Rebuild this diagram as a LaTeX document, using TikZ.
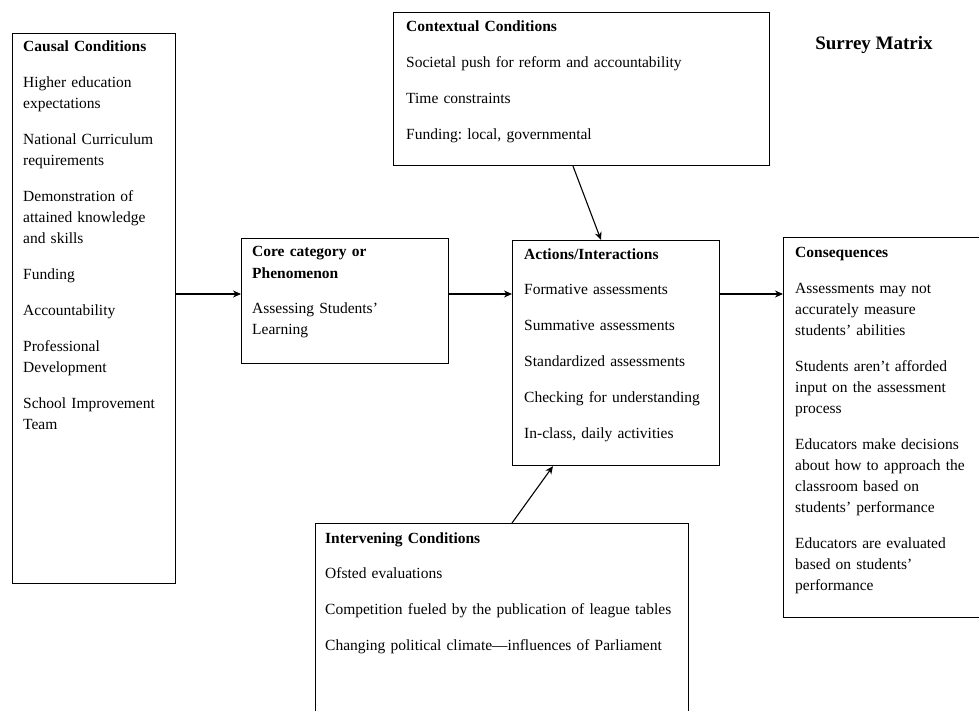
\documentclass[tikz,border=0pt]{standalone}
\usepackage{fontspec}
\setmainfont{Liberation Serif}
\usetikzlibrary{arrows.meta,calc}
\frenchspacing
\newcommand{\gp}{\\[14.9pt]}
\tikzset{
  box/.style={draw=black, line width=1.1pt, rectangle, inner sep=0pt, anchor=north west},
  txt/.style={anchor=base west, inner sep=0pt, align=left, text width=360pt,
              font=\fontsize{15.5}{21}\selectfont\frenchspacing, text=black},
  arr/.style={draw=black, line width=1.1pt, -{Stealth[length=8pt,width=7pt]}},
}
\begin{document}
\begin{tikzpicture}[x=1pt,y=-1pt]
\useasboundingbox (0,0) rectangle (979,711);
\clip (0,0) rectangle (979,711);
\fill[white] (0,0) rectangle (979,711);

% boxes
\node[box, minimum width=163pt, minimum height=550pt] (causal) at (12,33) {};
\node[box, minimum width=376pt, minimum height=153pt] (ctx) at (393,12) {};
\node[box, minimum width=207pt, minimum height=125pt] (core) at (241,238) {};
\node[box, minimum width=207pt, minimum height=225pt] (act) at (512,240) {};
\node[box, minimum width=210pt, minimum height=380pt] (cons) at (783,237) {};
\node[box, minimum width=373pt, minimum height=220pt] (intv) at (315,523) {};

% texts
\node[txt] (causalT) at (23,52) {\textbf{Causal Conditions}\gp
Higher education\\expectations\gp
National Curriculum\\requirements\gp
Demonstration of\\attained knowledge\\and skills\gp
Funding\gp
Accountability\gp
Professional\\Development\gp
School Improvement\\Team};

\node[txt] (ctxT) at (406,32) {\textbf{Contextual Conditions}\gp
Societal push for reform and accountability\gp
Time constraints\gp
Funding: local, governmental};

\node[txt] (coreT) at (252,257) {\textbf{Core category or}\\\textbf{Phenomenon}\gp
Assessing Students’\\Learning};

\node[txt] (actT) at (524,259) {\textbf{Actions/Interactions}\gp
Formative assessments\gp
Summative assessments\gp
Standardized assessments\gp
Checking for understanding\gp
In-class, daily activities};

\node[txt] (consT) at (795,258) {\textbf{Consequences}\gp
Assessments may not\\accurately measure\\students’ abilities\gp
Students aren’t afforded\\input on the assessment\\process\gp
Educators make decisions\\about how to approach the\\classroom based on\\students’ performance\gp
Educators are evaluated\\based on students’\\performance};

\node[txt] (intvT) at (325,543) {\textbf{Intervening Conditions}\gp
Ofsted evaluations\gp
Competition fueled by the publication of league tables\gp
Changing political climate—influences of Parliament};

\node[anchor=base, inner sep=0pt, font=\fontsize{19}{22}\selectfont\bfseries] (title) at (874,50) {Surrey Matrix};

% connectors
\coordinate (hy) at (0,294);
\draw[arr] (causal.east |- hy) -- (core.west |- hy);
\draw[arr] (core.east |- hy) -- (act.west |- hy);
\draw[arr] (act.east |- hy) -- (cons.west |- hy);
\draw[arr] ([xshift=180pt]ctx.south west) -- ([xshift=89pt]act.north west);
\draw[arr] ([xshift=197pt]intv.north west) -- ([xshift=41pt]act.south west);
\end{tikzpicture}
\end{document}
